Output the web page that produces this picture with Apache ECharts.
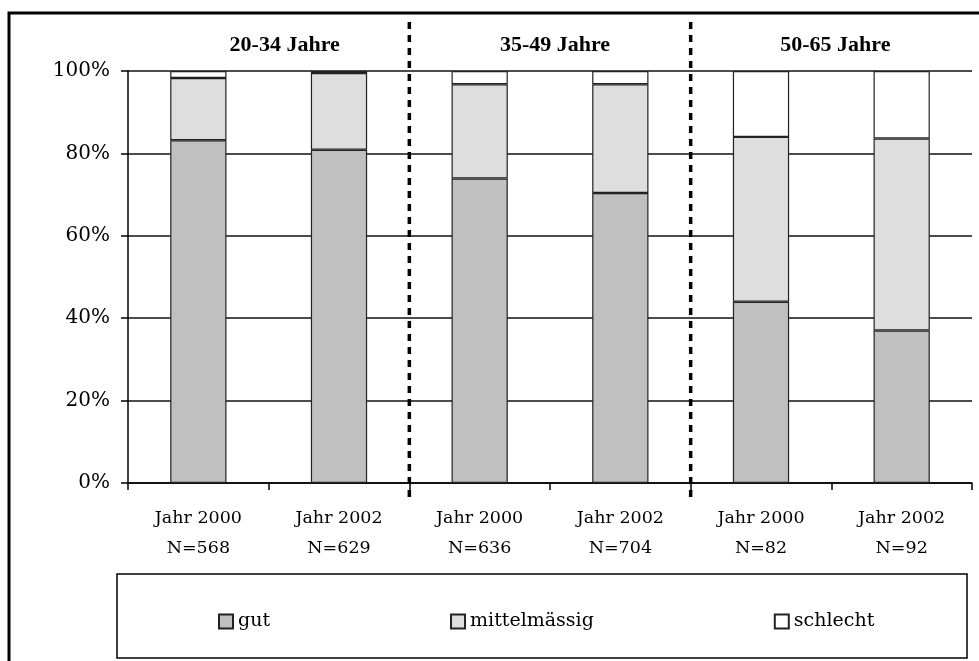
<!DOCTYPE html>
<html>
<head>
<meta charset="utf-8">
<script src="https://cdn.jsdelivr.net/npm/echarts@6/dist/echarts.min.js"></script>
<style>
  html, body { margin: 0; padding: 0; background: #fff; }
  #chart { width: 979px; height: 661px; }
</style>
</head>
<body>
<div id="chart"></div>
<script>
// Gesundheitszustand nach Altersgruppe und Erhebungsjahr (Anteile in %)
const categories = [
  'Jahr 2000\nN=568', 'Jahr 2002\nN=629',
  'Jahr 2000\nN=636', 'Jahr 2002\nN=704',
  'Jahr 2000\nN=82',  'Jahr 2002\nN=92'
];
const groupTitles = ['20-34 Jahre', '35-49 Jahre', '50-65 Jahre'];
const seriesNames = ['gut', 'mittelmässig', 'schlecht'];
const gut        = [83.2, 80.9, 73.9, 70.4, 44.0, 37.0];
const mittel     = [15.1, 18.6, 22.9, 26.4, 40.0, 46.6];
const schlecht   = [1.7, 0.5, 3.2, 3.2, 16.0, 16.4];
const yMax = 100;
const yStep = 20;

const serif = "'DejaVu Serif', 'Liberation Serif', serif";
const fills = ['#c0c0c0', '#dedede', '#ffffff'];
const values = [gut, mittel, schlecht];

const chart = echarts.init(document.getElementById('chart'), null, { renderer: 'canvas' });

const option = {
  animation: false,
  backgroundColor: '#fff',
  grid: { left: 128, right: 7, top: 71, bottom: 178 },
  legend: {
    left: 213,
    top: 607,
    itemWidth: 14,
    itemHeight: 14,
    itemGap: 180,
    icon: 'rect',
    textStyle: { fontFamily: serif, fontSize: 19, color: '#000' },
    data: seriesNames
  },
  xAxis: {
    type: 'category',
    data: categories,
    axisLine: { lineStyle: { color: '#000', width: 1.5 } },
    axisTick: { show: true, inside: false, length: 7, alignWithLabel: false, lineStyle: { color: '#000', width: 1.5 } },
    axisLabel: {
      color: '#000', fontFamily: serif, fontSize: 17.5, lineHeight: 30, margin: 20, interval: 0
    }
  },
  yAxis: {
    type: 'value',
    min: 0,
    max: yMax,
    interval: yStep,
    axisLine: { show: true, lineStyle: { color: '#000', width: 1.5 } },
    axisTick: { show: true, length: 7, lineStyle: { color: '#000', width: 1.5 } },
    axisLabel: { color: '#000', fontFamily: serif, fontSize: 20, margin: 18, formatter: '{value}%' },
    splitLine: { show: true, lineStyle: { color: '#111', width: 1.5 } }
  },
  series: seriesNames.map((name, i) => ({
    name: name,
    type: 'bar',
    stack: 'total',
    barWidth: '40%',
    data: values[i],
    itemStyle: { color: fills[i], borderColor: '#222', borderWidth: 1.2 }
  }))
};

chart.setOption(option);

// Annotations positioned from the axis scale: group separators and group titles
const px = c => chart.convertToPixel({ xAxisIndex: 0 }, c);
const centers = categories.map((c, i) => px(i));
const half = (centers[1] - centers[0]) / 2;
const sepX = [centers[1] + half, centers[3] + half];
const groupCenters = [0, 1, 2].map(g => (centers[2 * g] + centers[2 * g + 1]) / 2);
const titleShift = [16, 5, 4];

const graphics = [
  // outer frame
  { type: 'rect', shape: { x: 9, y: 13, width: 1000, height: 700 },
    style: { fill: 'none', stroke: '#000', lineWidth: 3 }, z: 10 },
  // legend box
  { type: 'rect', shape: { x: 117, y: 574, width: 850, height: 84 },
    style: { fill: 'none', stroke: '#000', lineWidth: 1.5 }, z: 10 }
];
sepX.forEach(x => {
  graphics.push({
    type: 'line', shape: { x1: x, y1: 22, x2: x, y2: 498 },
    style: { stroke: '#000', lineWidth: 3.5, lineDash: [7, 6] }, z: 20
  });
});
groupTitles.forEach((t, g) => {
  graphics.push({
    type: 'text', x: groupCenters[g] + titleShift[g], y: 45,
    style: {
      text: t, fill: '#000', font: "bold 22px 'Liberation Serif', serif",
      textAlign: 'center', textVerticalAlign: 'middle'
    }, z: 20
  });
});

chart.setOption({ graphic: graphics });
</script>
</body>
</html>
